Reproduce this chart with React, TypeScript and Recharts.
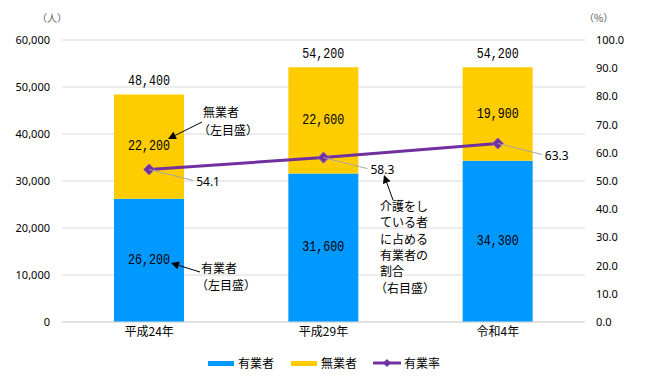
import {
  ComposedChart,
  Bar,
  Line,
  XAxis,
  YAxis,
  CartesianGrid,
  Legend,
  LabelList,
} from "recharts"

const years = ["平成24年", "平成29年", "令和4年"]
const employed = [26200, 31600, 34300]
const unemployed = [22200, 22600, 19900]
const rate = [54.1, 58.3, 63.3]
const leftTicks = [0, 10000, 20000, 30000, 40000, 50000, 60000]
const rightTicks = [0, 10, 20, 30, 40, 50, 60, 70, 80, 90, 100]

const data = years.map((year, i) => ({
  year,
  employed: employed[i],
  unemployed: unemployed[i],
  rate: rate[i],
}))

const BLUE = "#0099FF"
const YELLOW = "#FFCC00"
const PURPLE = "#7030A0"
const JP = "'Noto Sans CJK JP', 'Noto Sans', sans-serif"
const NUM = "'Noto Sans', sans-serif"
const MONO = "'Liberation Mono', 'DejaVu Sans Mono', monospace"

if (typeof document !== "undefined") document.body.style.margin = "0"

function fmt(v: number) {
  return v.toLocaleString("en-US")
}

// bar value labels in a narrow, tall gothic-like monospace look
function MonoText({ x, y, text }: { x: number; y: number; text: string }) {
  return (
    <text
      x={x}
      y={y}
      textAnchor="middle"
      dominantBaseline="central"
      fontFamily={MONO}
      fontSize={15}
      textLength={text.length * 7}
      lengthAdjust="spacingAndGlyphs"
      fill="#000"
    >
      {text}
    </text>
  )
}

function centerLabel(props: any) {
  const { x, y, width, height, value } = props
  return <MonoText x={x + width / 2} y={y + height / 2} text={fmt(value)} />
}

function totalLabel(props: any) {
  const { x, y, width, index } = props
  const total = employed[index] + unemployed[index]
  return <MonoText x={x + width / 2} y={y - 13} text={fmt(total)} />
}

function rateLabel(props: any) {
  const { x, y, value } = props
  return (
    <g>
      <line x1={x} y1={y} x2={x + 44} y2={y + 11} stroke="#a6a6a6" strokeWidth={1} />
      <text
        x={x + 47}
        y={y + 12}
        dominantBaseline="central"
        fontFamily={NUM}
        fontSize={12}
        fill="#000"
      >
        {value.toFixed(1)}
      </text>
    </g>
  )
}

function diamond(props: any) {
  const { cx, cy, index } = props
  const r = 5.5
  return (
    <path
      key={index}
      d={`M${cx},${cy - r}L${cx + r},${cy}L${cx},${cy + r}L${cx - r},${cy}Z`}
      fill={PURPLE}
      stroke="#8e5cc4"
      strokeWidth={1}
    />
  )
}

function renderLegend() {
  const items = [
    { label: "有業者", color: BLUE, kind: "bar" },
    { label: "無業者", color: YELLOW, kind: "bar" },
    { label: "有業率", color: PURPLE, kind: "line" },
  ]
  return (
    <div style={{ display: "flex", justifyContent: "center", gap: 16, fontFamily: JP, fontSize: 12 }}>
      {items.map((it) => (
        <div key={it.label} style={{ display: "flex", alignItems: "center", gap: 3 }}>
          <svg width={28} height={10}>
            {it.kind === "bar" ? (
              <rect x={1} y={3} width={26} height={5} fill={it.color} />
            ) : (
              <g>
                <line x1={0} y1={5} x2={28} y2={5} stroke={it.color} strokeWidth={3} />
                <path d="M14,1L18,5L14,9L10,5Z" fill={it.color} />
              </g>
            )}
          </svg>
          <span>{it.label}</span>
        </div>
      ))}
    </div>
  )
}

function Arrow({ x1, y1, x2, y2 }: { x1: number; y1: number; x2: number; y2: number }) {
  const a = Math.atan2(y2 - y1, x2 - x1)
  const L = 8
  const W = 4
  const bx = x2 - L * Math.cos(a)
  const by = y2 - L * Math.sin(a)
  const px = -Math.sin(a) * W
  const py = Math.cos(a) * W
  return (
    <g>
      <line x1={x1} y1={y1} x2={bx} y2={by} stroke="#000" strokeWidth={1} />
      <path d={`M${x2},${y2}L${bx + px},${by + py}L${bx - px},${by - py}Z`} fill="#000" />
    </g>
  )
}

function Notes() {
  const t = { fontFamily: JP, fontSize: 12, fill: "#000" }
  const careLines = ["介護をし", "ている者", "に占める", "有業者の", "割合", "（右目盛）"]
  return (
    <svg
      width={647}
      height={382}
      style={{ position: "absolute", left: 0, top: 0, pointerEvents: "none" }}
    >
      <text x={37} y={22} fontFamily={JP} fontSize={10} fill="#595959">（人）</text>
      <text x={584} y={22} fontFamily={JP} fontSize={10} fill="#595959">（%）</text>

      <text x={203} y={117} {...t}>無業者</text>
      <text x={198} y={135} {...t}>（左目盛）</text>
      <Arrow x1={202} y1={122} x2={168} y2={139} />

      <text x={201} y={273} {...t}>有業者</text>
      <text x={196} y={290} {...t}>（左目盛）</text>
      <Arrow x1={200} y1={272} x2={171} y2={263} />

      {careLines.map((s, i) => (
        <text key={s} x={i === 5 ? 375 : 380} y={211 + i * 16.3} {...t}>
          {s}
        </text>
      ))}
      <Arrow x1={393} y1={200} x2={384} y2={175} />
    </svg>
  )
}

export default function App() {
  return (
    <div style={{ position: "relative", width: 647, height: 382, background: "#fff" }}>
      <ComposedChart
        width={647}
        height={382}
        data={data}
        margin={{ top: 40, right: 0, bottom: 8, left: 0 }}
      >
        <CartesianGrid yAxisId="left" vertical={false} stroke="#d9d9d9" />
        <XAxis
          dataKey="year"
          height={30}
          tickSize={0}
          tickMargin={5}
          axisLine={{ stroke: "#d9d9d9" }}
          tickLine={false}
          tick={{ fontSize: 12, fill: "#000", fontFamily: JP }}
        />
        <YAxis
          yAxisId="left"
          width={62}
          domain={[0, 60000]}
          ticks={leftTicks}
          tickFormatter={fmt}
          tickSize={0}
          tickMargin={12}
          axisLine={false}
          tickLine={false}
          tick={{ fontSize: 11, fill: "#000", fontFamily: NUM }}
        />
        <YAxis
          yAxisId="right"
          orientation="right"
          width={62}
          domain={[0, 100]}
          ticks={rightTicks}
          tickFormatter={(v) => Number(v).toFixed(1)}
          tickSize={0}
          tickMargin={11}
          axisLine={false}
          tickLine={false}
          tick={{ fontSize: 11, fill: "#000", fontFamily: NUM }}
        />
        <Legend
          verticalAlign="bottom"
          content={renderLegend}
          wrapperStyle={{ height: 22, lineHeight: "22px" }}
        />
        <Bar
          yAxisId="left"
          dataKey="employed"
          name="有業者"
          stackId="a"
          fill={BLUE}
          barSize={70}
          isAnimationActive={false}
        >
          <LabelList dataKey="employed" content={centerLabel} />
        </Bar>
        <Bar
          yAxisId="left"
          dataKey="unemployed"
          name="無業者"
          stackId="a"
          fill={YELLOW}
          barSize={70}
          isAnimationActive={false}
        >
          <LabelList dataKey="unemployed" content={centerLabel} />
          <LabelList dataKey="unemployed" content={totalLabel} />
        </Bar>
        <Line
          yAxisId="right"
          dataKey="rate"
          name="有業率"
          stroke={PURPLE}
          strokeWidth={3}
          dot={diamond}
          activeDot={false}
          isAnimationActive={false}
        >
          <LabelList dataKey="rate" content={rateLabel} />
        </Line>
      </ComposedChart>
      <Notes />
    </div>
  )
}
